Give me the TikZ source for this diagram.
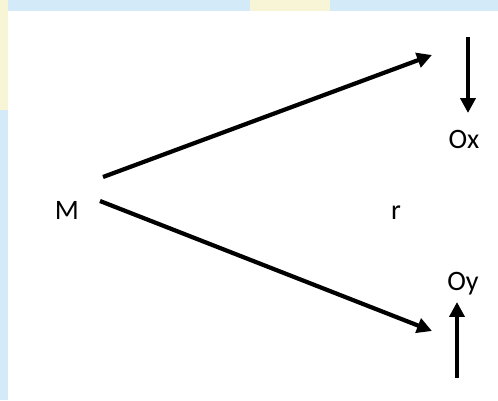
\documentclass[tikz,border=0pt]{standalone}
\usepackage{fontspec}
\setmainfont{Carlito}
\usepackage{xcolor}
\usepackage{tikz}
\usetikzlibrary{arrows.meta, positioning, backgrounds}
\definecolor{sheetblue}{HTML}{D3EAF8}
\definecolor{sheetyellow}{HTML}{F8F5D6}
\definecolor{inkmain}{HTML}{000000}
\tikzstyle{label} = [inner sep=0pt, anchor=base, text=inkmain, font=\fontsize{16}{19}\selectfont]
\tikzstyle{arrow} = [line width=2.4pt, -{Triangle[length=8.5pt, width=8.5pt]}, color=inkmain]

\begin{document}
\begin{tikzpicture}[x=0.02cm, y=-0.02cm]
    % Sheet
    \fill[sheetblue] (0,0) rectangle (498,400);
    \fill[sheetyellow] (0,0) rectangle (8,110);
    \fill[sheetyellow] (250,0) rectangle (330,11);
    \fill[white] (8,11) rectangle (498,400);
    \useasboundingbox (0,0) rectangle (498,400);

    % Nodes
    \node[label] (M) at (67,219) {M};
    \node[label] (r) at (396,219) {r};
    \node[label] (Ox) at (464,148) {Ox};
    \node[label] (Oy) at (463,290) {Oy};

    % Arrow ends
    \coordinate (mup) at (103,177);
    \coordinate (mdown) at (100,201);
    \coordinate (upend) at (432,55);
    \coordinate (downend) at (432,331);
    \coordinate (oxtop) at (468,37);
    \coordinate (oxtip) at (468,113);
    \coordinate (oybottom) at (457,378);
    \coordinate (oytip) at (457,302);

    % Arrows
    \draw[arrow] (mup) -- (upend);
    \draw[arrow] (mdown) -- (downend);
    \draw[arrow] (oxtop) -- (oxtip);
    \draw[arrow] (oybottom) -- (oytip);
\end{tikzpicture}
\end{document}
